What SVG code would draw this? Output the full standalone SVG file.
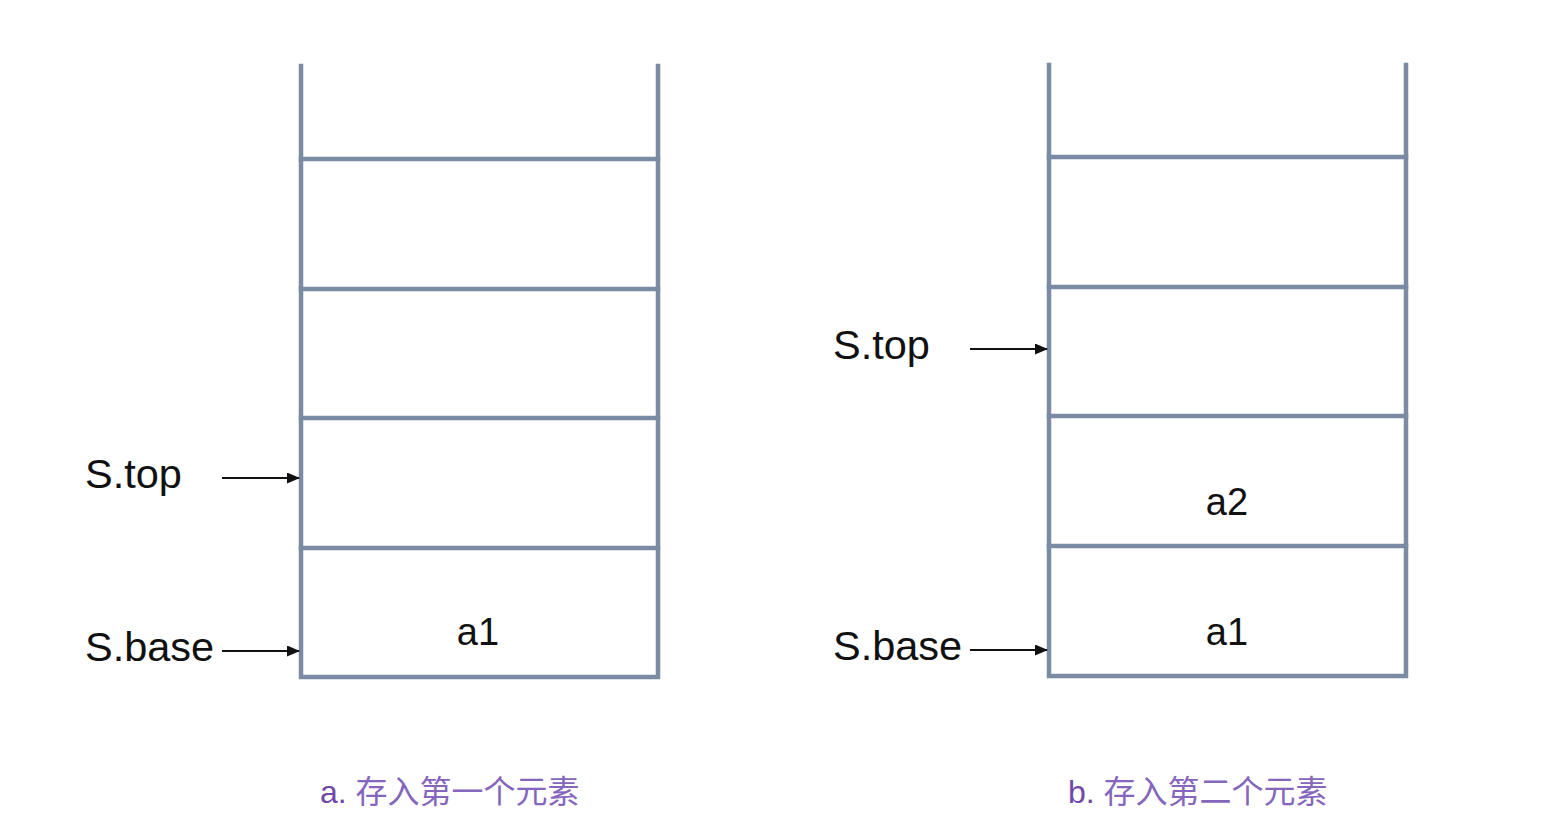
<svg xmlns="http://www.w3.org/2000/svg" width="1545" height="837" viewBox="0 0 1545 837">
<style>
.st{stroke:#7a8ba3;stroke-width:4.5;fill:none;stroke-linecap:square}
.lbl{font-family:"Liberation Sans",Arial,sans-serif;font-size:41.5px;fill:#111}
.cell{font-family:"Liberation Sans",Arial,sans-serif;font-size:38px;fill:#111;text-anchor:middle}
.cap{font-family:"Liberation Sans","Noto Sans CJK SC",sans-serif;font-size:32px;fill:#8466bc}
.ar{stroke:#111;stroke-width:2;fill:none;marker-end:url(#ah)}
</style>
<defs>
<marker id="ah" markerWidth="13" markerHeight="11" refX="12" refY="5.5" orient="auto" markerUnits="userSpaceOnUse">
<path d="M0,0 L13,5.5 L0,11 Z" fill="#111"/>
</marker>
</defs>
<rect width="1545" height="837" fill="#fff"/>
<g id="stackA">
<path class="st" d="M301,66 V677 H658 V66"/>
<path class="st" d="M301,159 H658 M301,289 H658 M301,418 H658 M301,548 H658"/>
<text class="cell" x="478" y="645">a1</text>
</g>
<g id="stackB">
<path class="st" d="M1049,65 V676 H1406 V65"/>
<path class="st" d="M1049,157 H1406 M1049,287 H1406 M1049,416 H1406 M1049,546 H1406"/>
<text class="cell" x="1227" y="515">a2</text>
<text class="cell" x="1227" y="645">a1</text>
</g>
<g id="labelA-top"><text class="lbl" x="85" y="488">S.top</text></g>
<g id="labelA-base"><text class="lbl" x="85" y="661">S.base</text></g>
<g id="labelB-top"><text class="lbl" x="833" y="359">S.top</text></g>
<g id="labelB-base"><text class="lbl" x="833" y="660">S.base</text></g>
<g id="connectors">
<line class="ar" x1="222" y1="478" x2="299" y2="478"/>
<line class="ar" x1="222" y1="651" x2="299" y2="651"/>
<line class="ar" x1="970" y1="349" x2="1047" y2="349"/>
<line class="ar" x1="970" y1="650" x2="1047" y2="650"/>
</g>
<g id="captionA"><text class="cap" x="320" y="803"><tspan fill="#6f48a8">a.</tspan> 存入第一个元素</text></g>
<g id="captionB"><text class="cap" x="1068" y="803"><tspan fill="#6f48a8">b.</tspan> 存入第二个元素</text></g>
</svg>
